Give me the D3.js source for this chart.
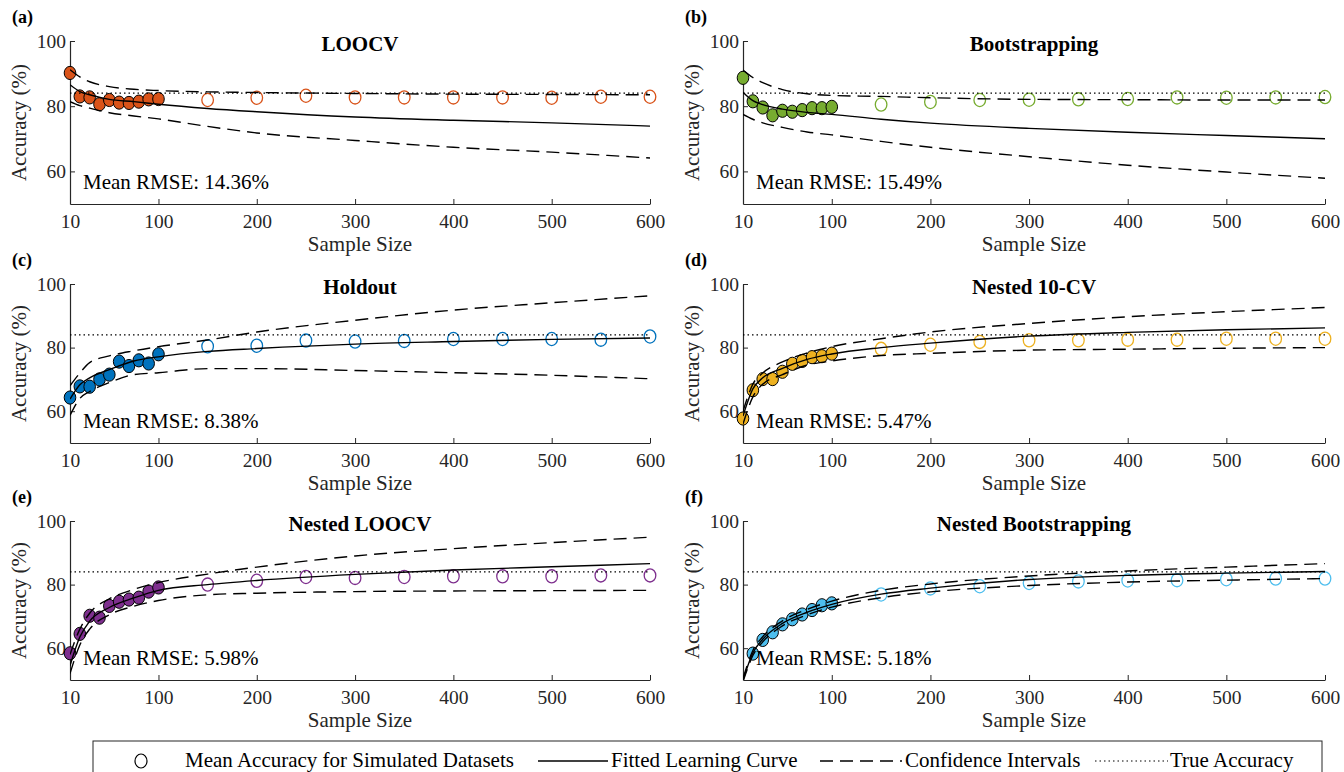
<!DOCTYPE html>
<html>
<head>
<meta charset="utf-8">
<script src="https://cdn.jsdelivr.net/npm/d3@7"></script>
<style>
  body { margin: 0; background: #fff; }
  svg text { font-family: "Liberation Serif", "Times New Roman", serif; }
</style>
</head>
<body>
<script>
// Sample sizes: filled markers (simulated small sets) and hollow markers (larger sets)
const sizesFilled = [10, 20, 30, 40, 50, 60, 70, 80, 90, 100];
const sizesHollow = [150, 200, 250, 300, 350, 400, 450, 500, 550, 600];
const curveN = [10, 20, 30, 50, 75, 100, 150, 200, 300, 400, 500, 600];
const trueAccuracy = 84;
const xTicks = [10, 100, 200, 300, 400, 500, 600];
const yTicks = [60, 80, 100];

const titles = ["LOOCV", "Bootstrapping", "Holdout", "Nested 10-CV", "Nested LOOCV", "Nested Bootstrapping"];
const tags = ["(a)", "(b)", "(c)", "(d)", "(e)", "(f)"];
const rmse = ["14.36%", "15.49%", "8.38%", "5.47%", "5.98%", "5.18%"];
const colors = ["#D95319", "#77AC30", "#0072BD", "#EDB120", "#7E2F8E", "#4DBEEE"];

// mean accuracy, filled (10..100) then hollow (150..600)
const accA = [90.2, 83.0, 82.7, 80.6, 81.9, 81.1, 81.0, 81.4, 82.1, 82.2,
              81.9, 82.6, 83.2, 82.7, 82.7, 82.7, 82.7, 82.6, 82.9, 82.9];
const accB = [88.7, 81.5, 79.6, 77.2, 78.6, 78.3, 78.8, 79.4, 79.4, 79.8,
              80.5, 81.3, 81.9, 82.0, 82.1, 82.2, 82.7, 82.6, 82.7, 82.8];
const accC = [64.3, 67.8, 67.7, 70.0, 71.5, 75.6, 74.2, 76.0, 75.0, 77.9,
              80.4, 80.6, 82.2, 81.9, 82.1, 82.7, 82.7, 82.7, 82.5, 83.5];
const accD = [57.7, 66.6, 70.1, 70.1, 72.4, 74.9, 75.8, 77.0, 77.3, 78.1,
              79.6, 80.9, 81.8, 82.3, 82.3, 82.5, 82.5, 82.8, 82.8, 82.8];
const accE = [58.4, 64.5, 70.2, 69.6, 73.3, 74.6, 75.3, 75.9, 77.8, 79.1,
              80.0, 81.2, 82.4, 82.1, 82.4, 82.6, 82.6, 82.6, 82.9, 82.9];
const accF = [null, 58.3, 62.6, 65.0, 67.5, 69.1, 70.6, 72.0, 73.5, 74.1,
              76.9, 78.8, 79.5, 80.5, 81.0, 81.3, 81.4, 81.7, 81.9, 81.9];

// fitted learning curves at curveN
const fitA = [86.6, 84.5, 83.5, 82.1, 81.4, 80.6, 79.3, 78.3, 76.7, 75.7, 74.9, 73.9];
const fitB = [84.3, 81.7, 80.5, 79.1, 78.1, 77.5, 76.0, 74.8, 73.2, 72.0, 71.0, 70.0];
const fitC = [63.8, 68.3, 70.5, 73.1, 75.8, 77.1, 78.8, 79.7, 81.1, 81.9, 82.6, 83.0];
const fitD = [58.5, 67.0, 70.5, 73.5, 76.3, 78.0, 80.0, 81.4, 83.6, 84.8, 85.6, 86.2];
const fitE = [54.5, 63.5, 68.5, 72.8, 75.8, 78.2, 80.0, 81.3, 83.2, 84.6, 85.6, 86.6];
const fitF = [50.0, 58.5, 62.8, 67.8, 71.3, 73.8, 77.0, 78.9, 81.6, 82.9, 83.6, 84.1];

// upper confidence bound
const hiA = [91.2, 89.0, 87.5, 86.0, 85.2, 84.8, 84.4, 84.2, 83.9, 83.7, 83.6, 83.5];
const hiB = [91.1, 88.8, 87.2, 85.1, 83.8, 83.3, 83.0, 82.6, 82.1, 82.0, 81.9, 81.9];
const hiC = [68.0, 72.0, 75.3, 77.4, 79.0, 80.3, 82.4, 84.9, 88.6, 91.8, 94.1, 96.3];
const hiD = [60.0, 68.5, 72.0, 75.5, 78.3, 80.3, 82.8, 84.9, 87.6, 89.7, 91.3, 92.6];
const hiE = [58.0, 66.0, 71.0, 75.5, 78.5, 80.6, 83.3, 85.5, 89.0, 91.3, 93.2, 94.9];
const hiF = [50.5, 59.3, 63.6, 68.6, 72.2, 74.8, 78.2, 80.2, 82.7, 84.3, 85.5, 86.6];

// lower confidence bound
const loA = [81.4, 80.2, 79.4, 78.0, 77.0, 76.1, 73.8, 71.8, 69.5, 67.4, 65.9, 64.1];
const loB = [77.5, 76.0, 74.9, 73.5, 72.1, 71.2, 69.2, 67.4, 64.5, 61.9, 59.8, 57.9];
const loC = [58.7, 64.0, 66.2, 69.0, 71.5, 72.1, 73.4, 73.4, 72.8, 72.1, 71.3, 70.2];
const loD = [56.0, 64.5, 68.5, 71.5, 74.5, 75.8, 77.5, 78.2, 79.2, 79.5, 79.8, 80.0];
const loE = [52.0, 61.0, 66.0, 70.5, 73.2, 75.0, 76.8, 77.3, 77.8, 78.0, 78.1, 78.2];
const loF = [49.5, 57.7, 62.0, 67.0, 70.5, 72.9, 75.9, 77.7, 79.7, 80.8, 81.4, 81.9];

const accs = [accA, accB, accC, accD, accE, accF];
const fits = [fitA, fitB, fitC, fitD, fitE, fitF];
const his = [hiA, hiB, hiC, hiD, hiE, hiF];
const los = [loA, loB, loC, loD, loE, loF];

// Page layout
const W = 1344, H = 772;
const colX = [[70, 650], [743, 1325]];
const rowY = [[41, 204], [284, 443], [521, 680]];
const ink = "#262626";
const dash = "13,7", dot = "1.5,3";

const svg = d3.select("body").append("svg")
  .attr("width", W)
  .attr("height", H)
  .attr("font-family", "Liberation Serif");

titles.forEach((title, i) => {
  const [x0, x1] = colX[i % 2];
  const [y0, y1] = rowY[Math.floor(i / 2)];
  const x = d3.scaleLinear().domain([10, 600]).range([x0, x1]);
  const y = d3.scaleLinear().domain([50, 100]).range([y1, y0]);
  const g = svg.append("g");

  svg.append("clipPath").attr("id", "clip" + i)
    .append("rect").attr("x", x0).attr("y", y0).attr("width", x1 - x0).attr("height", y1 - y0);

  // axes, ticks pointing inward like MATLAB
  const xAxis = g.append("g")
    .attr("transform", `translate(0,${y1})`)
    .call(d3.axisBottom(x).tickValues(xTicks).tickSizeInner(-5).tickSizeOuter(0).tickPadding(10));
  const yAxis = g.append("g")
    .attr("transform", `translate(${x0},0)`)
    .call(d3.axisLeft(y).tickValues(yTicks).tickSizeInner(-5).tickSizeOuter(0).tickPadding(4));
  [xAxis, yAxis].forEach(ax => {
    ax.attr("font-family", "Liberation Serif");
    ax.select(".domain").attr("stroke", ink).attr("stroke-width", 1.2);
    ax.selectAll(".tick line").attr("stroke", ink);
    ax.selectAll(".tick text")
      .attr("font-size", 19.5)
      .attr("fill", ink);
  });

  // axis labels, title, tag
  g.append("text")
    .attr("x", (x0 + x1) / 2).attr("y", y1 + 47)
    .attr("text-anchor", "middle").attr("font-size", 21).attr("fill", ink)
    .text("Sample Size");
  g.append("text")
    .attr("transform", `translate(${x0 - 44},${(y0 + y1) / 2}) rotate(-90)`)
    .attr("text-anchor", "middle").attr("font-size", 21).attr("fill", ink)
    .text("Accuracy (%)");
  g.append("text")
    .attr("x", (x0 + x1) / 2).attr("y", y0 + 10)
    .attr("text-anchor", "middle").attr("font-size", 21).attr("font-weight", "bold")
    .text(title);
  g.append("text")
    .attr("x", x0 - 58).attr("y", y0 - 18)
    .attr("font-size", 18).attr("font-weight", "bold")
    .text(tags[i]);

  const pts = sizesFilled.concat(sizesHollow)
    .map((n, k) => ({ n: n, v: accs[i][k], filled: k < sizesFilled.length }))
    .filter(d => d.v != null);

  // markers
  g.selectAll("ellipse.pt").data(pts).join("ellipse")
    .attr("class", "pt")
    .attr("cx", d => x(d.n)).attr("cy", d => y(d.v))
    .attr("rx", 5.8).attr("ry", 6.6)
    .attr("fill", d => d.filled ? colors[i] : "none")
    .attr("stroke", d => d.filled ? "#000" : colors[i])
    .attr("stroke-width", d => d.filled ? 1 : 1.3);

  // curves drawn over the markers
  const line = d3.line().x(d => x(d[0])).y(d => y(d[1])).curve(d3.curveMonotoneX);
  const lines = g.append("g").attr("clip-path", `url(#clip${i})`).attr("fill", "none").attr("stroke", "#000");
  lines.append("path")
    .attr("d", line(curveN.map((n, k) => [n, fits[i][k]])))
    .attr("stroke-width", 1.4);
  [his[i], los[i]].forEach(arr => {
    lines.append("path")
      .attr("d", line(curveN.map((n, k) => [n, arr[k]])))
      .attr("stroke-width", 1.4)
      .attr("stroke-dasharray", dash);
  });
  lines.append("path")
    .attr("d", line([[10, trueAccuracy], [600, trueAccuracy]]))
    .attr("stroke-width", 1.1)
    .attr("stroke-dasharray", dot);

  g.append("text")
    .attr("x", x0 + 13).attr("y", y1 - 15)
    .attr("font-size", 21).attr("fill", "#000")
    .text("Mean RMSE: " + rmse[i]);
});

// legend
const leg = svg.append("g");
leg.append("rect")
  .attr("x", 93).attr("y", 741).attr("width", 1229).attr("height", 40)
  .attr("fill", "#fff").attr("stroke", ink).attr("stroke-width", 1);
const ly = 761;
leg.append("ellipse").attr("cx", 141).attr("cy", ly).attr("rx", 6).attr("ry", 7)
  .attr("fill", "none").attr("stroke", "#000").attr("stroke-width", 1.2);
const legItems = [
  { x1: null, x2: null, dash: null, tx: 185, label: "Mean Accuracy for Simulated Datasets" },
  { x1: 538, x2: 608, dash: null, tx: 611, label: "Fitted Learning Curve" },
  { x1: 820, x2: 902, dash: dash, tx: 905, label: "Confidence Intervals" },
  { x1: 1095, x2: 1168, dash: dot, tx: 1170, label: "True Accuracy" }
];
legItems.forEach(it => {
  if (it.x1 != null) {
    leg.append("line")
      .attr("x1", it.x1).attr("x2", it.x2).attr("y1", ly).attr("y2", ly)
      .attr("stroke", "#000").attr("stroke-width", it.dash === dot ? 1.1 : 1.4)
      .attr("stroke-dasharray", it.dash);
  }
  leg.append("text")
    .attr("x", it.tx).attr("y", ly + 6)
    .attr("font-size", 21)
    .text(it.label);
});
</script>
</body>
</html>
